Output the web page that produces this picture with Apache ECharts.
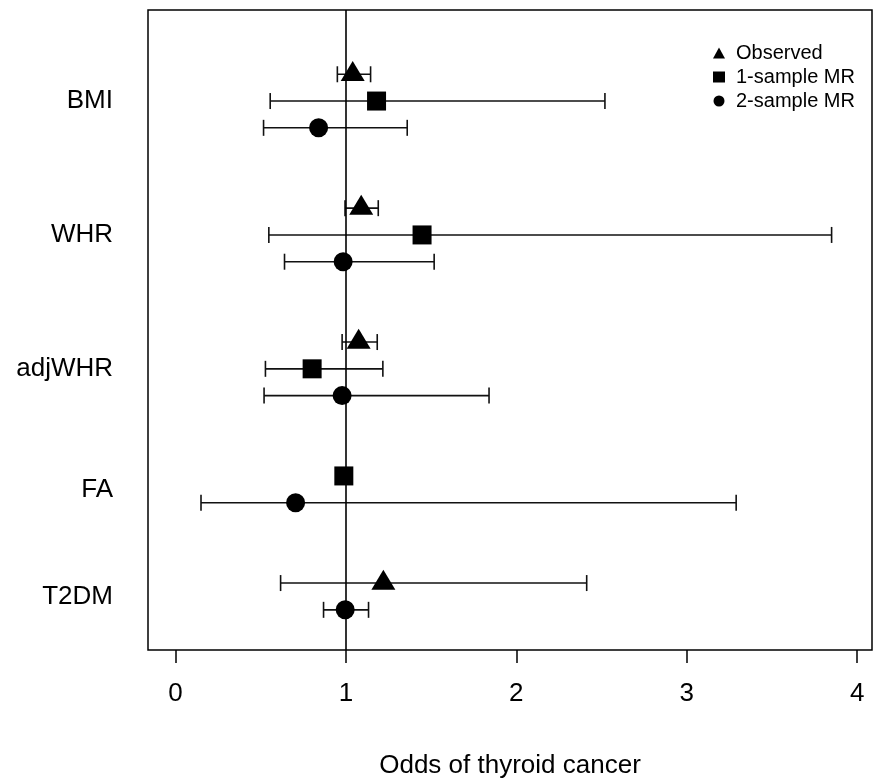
<!DOCTYPE html>
<html>
<head>
<meta charset="utf-8">
<script src="https://cdn.jsdelivr.net/npm/echarts@6/dist/echarts.min.js"></script>
<style>html,body{margin:0;padding:0;background:#fff;}#chart{width:873px;height:780px;}</style>
</head>
<body>
<div id="chart"></div>
<script>
// ---- data ----
const categories = ['BMI', 'WHR', 'adjWHR', 'FA', 'T2DM'];
const categoryRows = [0, 5, 10, 14.5, 18.5];
const xTicks = [0, 1, 2, 3, 4];

const observedRows = [-1, 4, 9, null, 18];
const observedOR   = [1.04, 1.09, 1.075, null, 1.22];
const observedLow  = [0.95, 0.995, 0.978, null, 0.617];
const observedHigh = [1.145, 1.19, 1.184, null, 2.413];

const oneSampleRows = [0, 5, 10, 14, null];
const oneSampleOR   = [1.18, 1.447, 0.802, 0.988, null];
const oneSampleLow  = [0.556, 0.548, 0.528, null, null];
const oneSampleHigh = [2.52, 3.85, 1.217, null, null];

const twoSampleRows = [1, 6, 11, 15, 19];
const twoSampleOR   = [0.84, 0.984, 0.978, 0.705, 0.996];
const twoSampleLow  = [0.517, 0.64, 0.52, 0.15, 0.869];
const twoSampleHigh = [1.36, 1.518, 1.84, 3.29, 1.133];

// ---- build ----
function pts(rows, est) {
  const out = [];
  rows.forEach((r, i) => { if (r !== null && est[i] !== null) out.push([est[i], r]); });
  return out;
}
function bars(rows, lo, hi) {
  const out = [];
  rows.forEach((r, i) => { if (r !== null && lo[i] !== null && hi[i] !== null) out.push([lo[i], hi[i], r]); });
  return out;
}
const barData = [].concat(
  bars(observedRows, observedLow, observedHigh),
  bars(oneSampleRows, oneSampleLow, oneSampleHigh),
  bars(twoSampleRows, twoSampleLow, twoSampleHigh)
);

const FONT = "'Liberation Sans', Arial, Helvetica, sans-serif";
const chart = echarts.init(document.getElementById('chart'), null, {renderer: 'canvas'});

chart.setOption({
  animation: false,
  backgroundColor: '#fff',
  textStyle: {fontFamily: FONT, color: '#000'},
  grid: {left: 148, right: 1, top: 10, bottom: 130, show: true, borderColor: '#000', borderWidth: 1.5,
         backgroundColor: 'transparent', containLabel: false, outerBoundsMode: 'none'},
  legend: {
    orient: 'vertical', left: 708, top: 38,
    itemWidth: 12, itemHeight: 11, itemGap: 4,
    textStyle: {fontFamily: FONT, fontSize: 20, lineHeight: 20, color: '#000', padding: [0, 0, 0, 6]},
    data: [
      {name: 'Observed', icon: 'triangle'},
      {name: '1-sample MR', icon: 'rect'},
      {name: '2-sample MR', icon: 'circle'}
    ]
  },
  xAxis: {
    type: 'value', min: -0.161, max: 4.087,
    axisLine: {show: false, onZero: false},
    splitLine: {show: false},
    axisTick: {show: true, inside: false, length: 13, customValues: xTicks, lineStyle: {color: '#000', width: 1.5}},
    axisLabel: {customValues: xTicks, fontSize: 26, color: '#000', fontFamily: FONT, margin: 31},
    name: 'Odds of thyroid cancer', nameLocation: 'middle', nameGap: 103,
    nameTextStyle: {fontSize: 26, color: '#000', fontFamily: FONT}
  },
  yAxis: {
    type: 'value', inverse: true, min: -3.4, max: 20.5,
    axisLine: {show: false, onZero: false}, axisTick: {show: false}, splitLine: {show: false},
    axisLabel: {
      customValues: categoryRows, fontSize: 26, color: '#000', fontFamily: FONT, margin: 35,
      formatter: function (v) { const i = categoryRows.indexOf(v); return i >= 0 ? categories[i] : ''; }
    }
  },
  series: [
    {
      type: 'custom', name: 'CI', silent: true, z: 2,
      encode: {x: [0, 1], y: 2},
      data: barData,
      renderItem: function (params, api) {
        const a = api.coord([api.value(0), api.value(2)]);
        const b = api.coord([api.value(1), api.value(2)]);
        const h = 8;
        const style = {stroke: '#111', lineWidth: 1.6, fill: null};
        return {type: 'group', children: [
          {type: 'line', shape: {x1: a[0], y1: a[1], x2: b[0], y2: b[1]}, style: style},
          {type: 'line', shape: {x1: a[0], y1: a[1] - h, x2: a[0], y2: a[1] + h}, style: style},
          {type: 'line', shape: {x1: b[0], y1: b[1] - h, x2: b[0], y2: b[1] + h}, style: style}
        ]};
      }
    },
    {
      type: 'scatter', name: 'Observed', z: 5, symbol: 'triangle', symbolSize: [24, 20], symbolOffset: [0, -3.3],
      itemStyle: {color: '#000', opacity: 1}, data: pts(observedRows, observedOR)
    },
    {
      type: 'scatter', name: '1-sample MR', z: 5, symbol: 'rect', symbolSize: 19,
      itemStyle: {color: '#000', opacity: 1}, data: pts(oneSampleRows, oneSampleOR)
    },
    {
      type: 'scatter', name: '2-sample MR', z: 5, symbol: 'circle', symbolSize: 19,
      itemStyle: {color: '#000', opacity: 1}, data: pts(twoSampleRows, twoSampleOR),
      markLine: {
        silent: true, symbol: ['none', 'none'], label: {show: false},
        lineStyle: {color: '#000', width: 1.6, type: 'solid'},
        data: [{xAxis: 1}]
      }
    }
  ]
});
</script>
</body>
</html>
